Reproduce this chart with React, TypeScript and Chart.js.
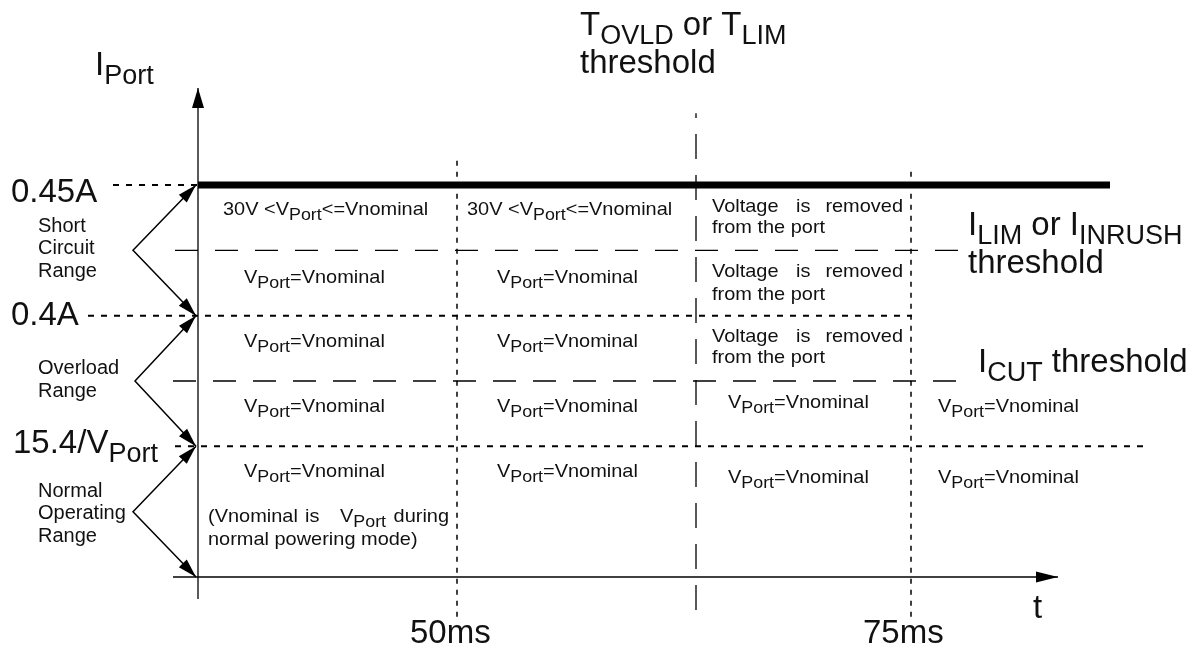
import React, { useEffect, useRef } from 'react';
import { Chart, registerables } from 'chart.js';

Chart.register(...registerables);

// ---------- data (schematic units) ----------
// current threshold levels on the I_Port axis
const levelNames = ['0', '15.4/VPort', 'ICUT', '0.4A', 'ILIM', '0.45A'];
const levelValues = [0, 2, 3, 4, 5, 6];
const levelLineStart = [-2.5, -2.3, -2.5, -11.0, -2.3, -8.5];
const levelLineEnd = [86.0, 94.9, 76.9, 71.4, 76.2, 0];

// time marks on the t axis
const timeNames = ['0', '50ms', 'TOVLD', '75ms'];
const timeValues = [0, 25.9, 49.8, 71.3];
const timeLineBottom = [-0.337, -0.61, -0.505, -0.61];
const timeLineTop = [7.485, 6.38, 7.1, 6.23];

// the current limit (thick) line
const limitLineX = [0, 91.2];
const limitLineY = [6, 6];

// ranges shown by the left-hand arrows
const rangeNames = ['Short Circuit Range', 'Overload Range', 'Normal Operating Range'];
const rangeLow = [4, 2, 0];
const rangeHigh = [6, 4, 2];
const rangeVertexX = [-6.5, -6.3, -6.5];
const rangeTipX = -0.2;

// ---------- styles ----------
const FONT = '"Liberation Sans", Arial, Helvetica, sans-serif';
const levelStyle: Record<string, { dash: number[]; width: number }> = {
  '0': { dash: [], width: 1.3 },
  '15.4/VPort': { dash: [6, 7], width: 2 },
  ICUT: { dash: [23, 17], width: 1.3 },
  '0.4A': { dash: [6, 7], width: 2 },
  ILIM: { dash: [23, 17], width: 1.3 },
  '0.45A': { dash: [6, 7], width: 2 },
};
const timeStyle: Record<string, { dash: number[]; width: number }> = {
  '0': { dash: [], width: 1.3 },
  '50ms': { dash: [5, 6], width: 1.5 },
  TOVLD: { dash: [25, 16], width: 1.3 },
  '75ms': { dash: [5, 6], width: 1.5 },
};

type FontKind = 'big' | 'cell' | 'range';
const fontSpec: Record<FontKind, { main: number; sub: number; subDy: number; sx: number; lh: number }> = {
  big: { main: 33, sub: 27, subDy: 9, sx: 1.0, lh: 38 },
  cell: { main: 19, sub: 17, subDy: 5, sx: 1.05, lh: 22 },
  range: { main: 20, sub: 16, subDy: 5, sx: 1.0, lh: 22.5 },
};

interface Label { text: string; x: number; y: number; kind: FontKind; align?: 'left' | 'right' }

const labels: Label[] = [
  // axis & threshold labels
  { text: 'I[Port]', x: -10.3, y: 7.684, kind: 'big' },
  { text: '0.45A', x: -18.7, y: 5.74, kind: 'big' },
  { text: '0.4A', x: -18.7, y: 3.857, kind: 'big' },
  { text: '15.4/V[Port]', x: -18.5, y: 1.898, kind: 'big' },
  { text: 'T[OVLD] or T[LIM]\nthreshold', x: 38.2, y: 8.296, kind: 'big' },
  { text: 'I[LIM] or I[INRUSH]', x: 77.0, y: 5.235, kind: 'big' },
  { text: 'threshold', x: 77.0, y: 4.653, kind: 'big' },
  { text: 'I[CUT] threshold', x: 78.0, y: 3.138, kind: 'big' },
  { text: '50ms', x: 21.2, y: -1.01, kind: 'big' },
  { text: '75ms', x: 66.5, y: -1.01, kind: 'big' },
  { text: 't', x: 83.5, y: -0.628, kind: 'big' },
  // range labels
  { text: 'Short\nCircuit\nRange', x: -16.0, y: 5.281, kind: 'range' },
  { text: 'Overload\nRange', x: -16.0, y: 3.107, kind: 'range' },
  { text: 'Normal\nOperating\nRange', x: -16.0, y: 1.225, kind: 'range' },
  // column 1
  { text: '30V <V[Port]<=Vnominal', x: 2.5, y: 5.541, kind: 'cell' },
  { text: 'V[Port]=Vnominal', x: 4.6, y: 4.5, kind: 'cell' },
  { text: 'V[Port]=Vnominal', x: 4.6, y: 3.521, kind: 'cell' },
  { text: 'V[Port]=Vnominal', x: 4.6, y: 2.526, kind: 'cell' },
  { text: 'V[Port]=Vnominal', x: 4.6, y: 1.531, kind: 'cell' },
  { text: '(Vnominal', x: 1.0, y: 0.842, kind: 'cell' },
  { text: 'is', x: 10.7, y: 0.842, kind: 'cell' },
  { text: 'V[Port]', x: 14.2, y: 0.842, kind: 'cell' },
  { text: 'during', x: 25.1, y: 0.842, kind: 'cell', align: 'right' },
  { text: 'normal powering mode)', x: 1.0, y: 0.49, kind: 'cell' },
  // column 2
  { text: '30V <V[Port]<=Vnominal', x: 26.9, y: 5.541, kind: 'cell' },
  { text: 'V[Port]=Vnominal', x: 29.9, y: 4.5, kind: 'cell' },
  { text: 'V[Port]=Vnominal', x: 29.9, y: 3.521, kind: 'cell' },
  { text: 'V[Port]=Vnominal', x: 29.9, y: 2.526, kind: 'cell' },
  { text: 'V[Port]=Vnominal', x: 29.9, y: 1.531, kind: 'cell' },
  // column 3
  { text: 'Voltage', x: 51.4, y: 5.587, kind: 'cell' },
  { text: 'is', x: 59.8, y: 5.587, kind: 'cell' },
  { text: 'removed', x: 70.5, y: 5.587, kind: 'cell', align: 'right' },
  { text: 'from the port', x: 51.4, y: 5.266, kind: 'cell' },
  { text: 'Voltage', x: 51.4, y: 4.592, kind: 'cell' },
  { text: 'is', x: 59.8, y: 4.592, kind: 'cell' },
  { text: 'removed', x: 70.5, y: 4.592, kind: 'cell', align: 'right' },
  { text: 'from the port', x: 51.4, y: 4.24, kind: 'cell' },
  { text: 'Voltage', x: 51.4, y: 3.597, kind: 'cell' },
  { text: 'is', x: 59.8, y: 3.597, kind: 'cell' },
  { text: 'removed', x: 70.5, y: 3.597, kind: 'cell', align: 'right' },
  { text: 'from the port', x: 51.4, y: 3.276, kind: 'cell' },
  { text: 'V[Port]=Vnominal', x: 53.0, y: 2.587, kind: 'cell' },
  { text: 'V[Port]=Vnominal', x: 53.0, y: 1.439, kind: 'cell' },
  // column 4
  { text: 'V[Port]=Vnominal', x: 74.0, y: 2.526, kind: 'cell' },
  { text: 'V[Port]=Vnominal', x: 74.0, y: 1.439, kind: 'cell' },
];

function parseParts(s: string) {
  const parts: { t: string; sub: boolean }[] = [];
  const re = /\[([^\]]*)\]|([^\[]+)/g;
  let m: RegExpExecArray | null;
  while ((m = re.exec(s))) {
    if (m[1] !== undefined) parts.push({ t: m[1], sub: true });
    else parts.push({ t: m[2], sub: false });
  }
  return parts;
}

const textPlugin = {
  id: 'diagramText',
  afterDatasetsDraw(chart: any) {
    const ctx: CanvasRenderingContext2D = chart.ctx;
    const xs = chart.scales.x;
    const ys = chart.scales.y;
    ctx.save();
    ctx.fillStyle = '#111';
    ctx.textBaseline = 'alphabetic';
    ctx.textAlign = 'left';
    for (const lb of labels) {
      const f = fontSpec[lb.kind];
      const px = xs.getPixelForValue(lb.x);
      const py = ys.getPixelForValue(lb.y);
      lb.text.split('\n').forEach((line, i) => {
        const parts = parseParts(line);
        let w = 0;
        const widths = parts.map((p) => {
          ctx.font = `${p.sub ? f.sub : f.main}px ${FONT}`;
          const ww = ctx.measureText(p.t).width;
          w += ww;
          return ww;
        });
        ctx.save();
        ctx.translate(px, py + i * f.lh);
        ctx.scale(f.sx, 1);
        let cx = lb.align === 'right' ? -w : 0;
        parts.forEach((p, k) => {
          ctx.font = `${p.sub ? f.sub : f.main}px ${FONT}`;
          ctx.fillText(p.t, cx, p.sub ? f.subDy : 0);
          cx += widths[k];
        });
        ctx.restore();
      });
    }
    ctx.restore();
  },
};

interface Arrow { fx: number; fy: number; tx: number; ty: number; len: number; hw: number }
const arrows: Arrow[] = [
  { fx: timeValues[0], fy: levelValues[0], tx: timeValues[0], ty: timeLineTop[0], len: 20, hw: 6 },
  { fx: timeValues[0], fy: levelValues[0], tx: levelLineEnd[0], ty: levelValues[0], len: 22, hw: 5.5 },
];
rangeNames.forEach((_, i) => {
  const vy = (rangeLow[i] + rangeHigh[i]) / 2;
  arrows.push({ fx: rangeVertexX[i], fy: vy, tx: rangeTipX, ty: rangeHigh[i], len: 19, hw: 5.5 });
  arrows.push({ fx: rangeVertexX[i], fy: vy, tx: rangeTipX, ty: rangeLow[i], len: 19, hw: 5.5 });
});

const arrowPlugin = {
  id: 'diagramArrows',
  afterDatasetsDraw(chart: any) {
    const ctx: CanvasRenderingContext2D = chart.ctx;
    const xs = chart.scales.x;
    const ys = chart.scales.y;
    ctx.save();
    ctx.fillStyle = '#000';
    for (const a of arrows) {
      const x1 = xs.getPixelForValue(a.fx);
      const y1 = ys.getPixelForValue(a.fy);
      const x2 = xs.getPixelForValue(a.tx);
      const y2 = ys.getPixelForValue(a.ty);
      const ang = Math.atan2(y2 - y1, x2 - x1);
      const bx = x2 - a.len * Math.cos(ang);
      const by = y2 - a.len * Math.sin(ang);
      const nx = -Math.sin(ang) * a.hw;
      const ny = Math.cos(ang) * a.hw;
      ctx.beginPath();
      ctx.moveTo(x2, y2);
      ctx.lineTo(bx + nx, by + ny);
      ctx.lineTo(bx - nx, by - ny);
      ctx.closePath();
      ctx.fill();
    }
    ctx.restore();
  },
};

export default function App() {
  const ref = useRef<HTMLCanvasElement | null>(null);
  useEffect(() => {
    if (!ref.current) return;
    const datasets: any[] = [];
    const base = {
      showLine: true,
      pointRadius: 0,
      pointHoverRadius: 0,
      fill: false,
      tension: 0,
      borderColor: '#000',
      borderCapStyle: 'butt',
    };
    levelNames.forEach((name, i) => {
      const st = levelStyle[name];
      datasets.push({
        ...base,
        label: name,
        borderWidth: st.width,
        borderDash: st.dash,
        data: [
          { x: levelLineStart[i], y: levelValues[i] },
          { x: levelLineEnd[i], y: levelValues[i] },
        ],
      });
    });
    timeNames.forEach((name, i) => {
      const st = timeStyle[name];
      datasets.push({
        ...base,
        label: name,
        borderWidth: st.width,
        borderDash: st.dash,
        data: [
          { x: timeValues[i], y: timeLineBottom[i] },
          { x: timeValues[i], y: timeLineTop[i] },
        ],
      });
    });
    datasets.push({
      ...base,
      label: 'limit',
      borderWidth: 7,
      data: limitLineX.map((x, i) => ({ x, y: limitLineY[i] })),
    });
    rangeNames.forEach((name, i) => {
      const vy = (rangeLow[i] + rangeHigh[i]) / 2;
      datasets.push({
        ...base,
        label: name,
        borderWidth: 1.5,
        data: [
          { x: rangeTipX, y: rangeHigh[i] },
          { x: rangeVertexX[i], y: vy },
          { x: rangeTipX, y: rangeLow[i] },
        ],
      });
    });

    const chart = new Chart(ref.current, {
      type: 'scatter',
      data: { datasets },
      options: {
        animation: false,
        responsive: true,
        maintainAspectRatio: false,
        layout: { padding: 0 },
        events: [],
        plugins: { legend: { display: false }, tooltip: { enabled: false }, title: { display: false } },
        scales: {
          x: { type: 'linear', display: false, min: -19.8, max: 99.8 },
          y: { type: 'linear', display: false, min: -1.087, max: 8.832 },
        },
      },
      plugins: [arrowPlugin, textPlugin],
    } as any);
    return () => chart.destroy();
  }, []);

  return (
    <div style={{ position: 'fixed', left: 0, top: 0, width: 1196, height: 648, background: '#fff' }}>
      <canvas ref={ref} />
    </div>
  );
}
